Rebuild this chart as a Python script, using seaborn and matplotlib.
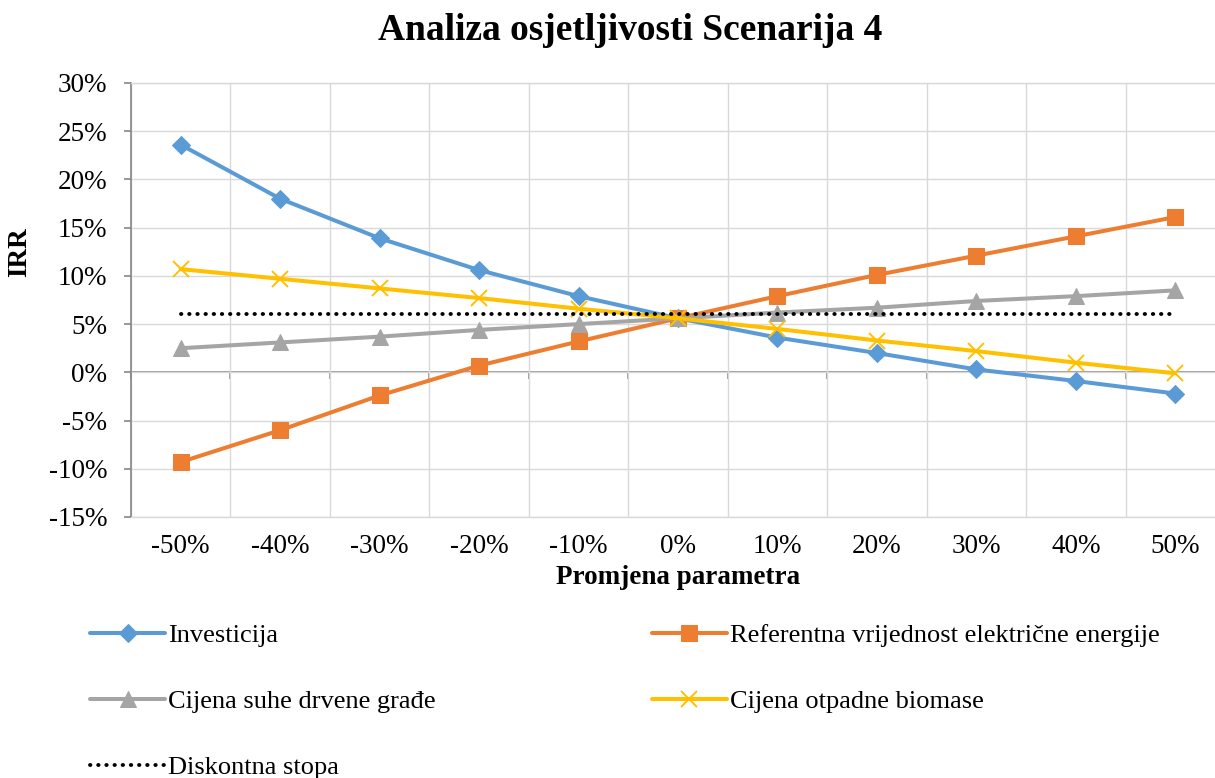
import matplotlib
matplotlib.use('Agg')
import matplotlib.pyplot as plt
import seaborn as sns
import numpy as np
from matplotlib.ticker import PercentFormatter, MultipleLocator, FixedLocator, NullFormatter

# Data (IRR in %)
categories = ['-50%', '-40%', '-30%', '-20%', '-10%', '0%', '10%', '20%', '30%', '40%', '50%']
investicija = [23.6, 18.0, 13.9, 10.6, 7.9, 5.6, 3.6, 2.0, 0.3, -0.9, -2.2]
referentna = [-9.3, -6.0, -2.4, 0.7, 3.2, 5.6, 7.9, 10.1, 12.1, 14.1, 16.1]
suha_grada = [2.5, 3.1, 3.7, 4.4, 5.0, 5.6, 6.2, 6.7, 7.4, 7.9, 8.5]
otpadna_biomasa = [10.7, 9.7, 8.7, 7.7, 6.6, 5.6, 4.5, 3.3, 2.2, 1.0, -0.1]
diskontna_stopa = [6.0] * len(categories)

sns.set_style('white')
plt.rcParams['font.family'] = ['Liberation Serif', 'DejaVu Serif']
plt.rcParams['axes.unicode_minus'] = False
plt.rcParams['text.color'] = 'black'
plt.rcParams['xtick.labelcolor'] = 'black'
plt.rcParams['ytick.labelcolor'] = 'black'

fig = plt.figure(figsize=(12.15, 7.78), dpi=100)
ax = fig.add_axes([131 / 1215, 1 - 517 / 778, (1225 - 131) / 1215, (517 - 83) / 778])

pos = np.arange(len(categories))
lw = 2.9

sns.lineplot(x=pos, y=investicija, ax=ax, color='#5B9BD5', linewidth=lw,
             marker='D', markersize=9.5, markeredgecolor='#5B9BD5', label='Investicija')
sns.lineplot(x=pos, y=referentna, ax=ax, color='#ED7D31', linewidth=lw,
             marker='s', markersize=11, markeredgecolor='#ED7D31',
             label='Referentna vrijednost električne energije')
sns.lineplot(x=pos, y=suha_grada, ax=ax, color='#A5A5A5', linewidth=lw,
             marker='^', markersize=12, markeredgecolor='#A5A5A5',
             label='Cijena suhe drvene građe')
sns.lineplot(x=pos, y=otpadna_biomasa, ax=ax, color='#FFC000', linewidth=lw,
             marker='x', markersize=11, markeredgewidth=1.4, markeredgecolor='#FFC000',
             label='Cijena otpadne biomase')
sns.lineplot(x=pos, y=diskontna_stopa, ax=ax, color='black', linewidth=2.8,
             linestyle=(0, (0.1, 2.0)), dash_capstyle='round', label='Diskontna stopa')

ymin, ymax = -15, 30
ax.set_xlim(-0.5, len(categories) - 0.5)
ax.set_ylim(ymin, ymax)

# grid
ax.yaxis.set_major_locator(MultipleLocator(5))
ax.yaxis.set_major_formatter(PercentFormatter(decimals=0))
ax.set_xticks(pos)
ax.set_xticklabels(categories)
ax.xaxis.set_minor_locator(FixedLocator(np.arange(-0.5, len(categories), 1)))
ax.grid(True, which='major', axis='y', color='#D9D9D9', linewidth=1)
ax.grid(True, which='minor', axis='x', color='#D9D9D9', linewidth=1)
ax.set_axisbelow(True)

for s in ['top', 'right', 'bottom']:
    ax.spines[s].set_color('#D9D9D9')
    ax.spines[s].set_linewidth(1)
ax.spines['left'].set_color('#868686')
ax.spines['left'].set_linewidth(1.2)

ax.tick_params(axis='y', which='major', length=5, width=1.2, color='#868686',
               labelsize=19.5, pad=12, left=True, labelcolor='black')
ax.tick_params(axis='x', which='major', length=0, labelsize=19.5, pad=12, labelcolor='black')
ax.tick_params(axis='x', which='minor', length=0)

# category axis line at 0%
zero_frac = (0 - ymin) / (ymax - ymin)
sec = ax.secondary_xaxis(zero_frac)
sec.spines['bottom'].set_color('#868686')
sec.spines['bottom'].set_linewidth(1.2)
sec.set_xticks(np.arange(-0.5, len(categories), 1))
sec.xaxis.set_major_formatter(NullFormatter())
sec.tick_params(axis='x', length=5, width=1.2, color='#868686')

ax.set_xlabel('')
ax.set_ylabel('')
fig.text(0.519, 1 - 30 / 778, 'Analiza osjetljivosti Scenarija 4', ha='center', va='center',
         fontsize=27, fontweight='bold', color='black')
fig.text(678 / 1215, 1 - 578 / 778, 'Promjena parametra', ha='center', va='center',
         fontsize=19.5, fontweight='bold', color='black')
fig.text(20 / 1215, 1 - 252 / 778, 'IRR', ha='center', va='center', rotation=90,
         fontsize=19.5, fontweight='bold', color='black')

# legend below
handles, labels = ax.get_legend_handles_labels()
ax.get_legend().remove()
order = [0, 2, 4, 1, 3]
leg = fig.legend([handles[i] for i in order], [labels[i] for i in order], ncol=2,
                 loc='upper left', bbox_to_anchor=(90 / 1215, 1 - 624 / 778),
                 frameon=False, fontsize=19, handlelength=2.85, handletextpad=0.1,
                 labelspacing=1.6, columnspacing=8.2, borderpad=0, borderaxespad=0)
for t in leg.get_texts():
    t.set_color('black')

fig.savefig('out.png', dpi=100)
